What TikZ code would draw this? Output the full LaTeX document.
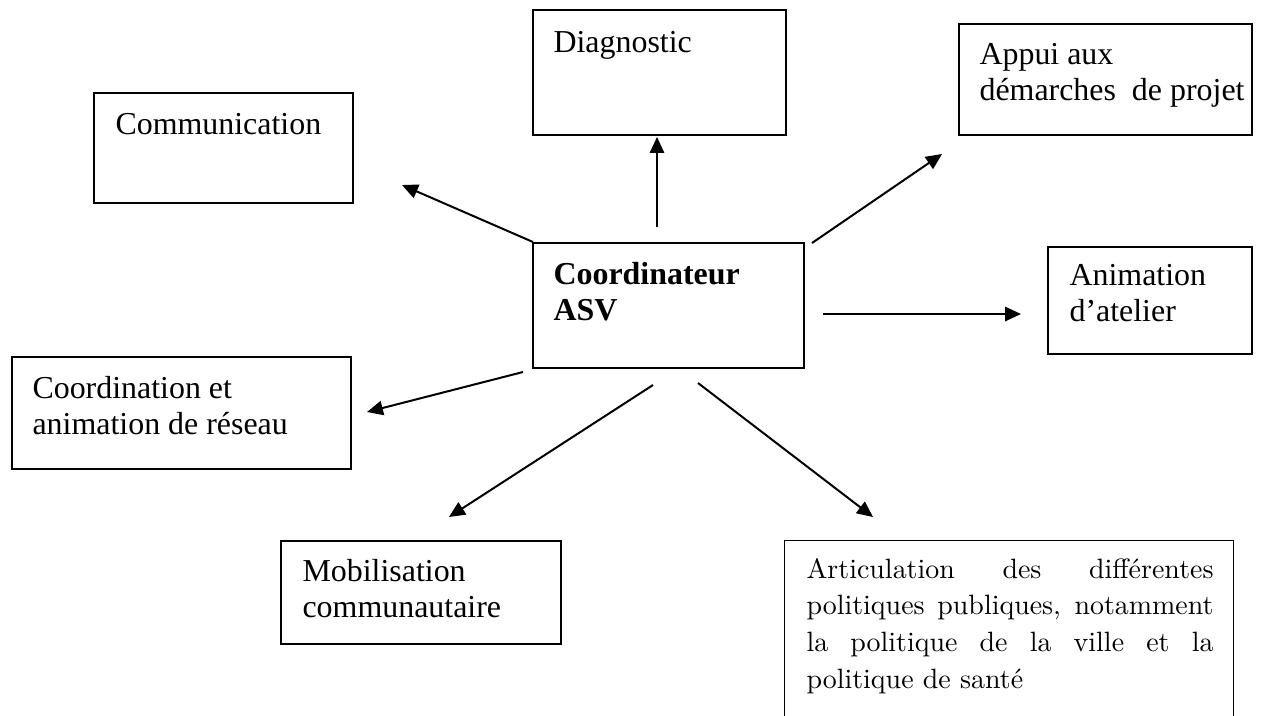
\documentclass[tikz,border=0pt]{standalone}
\usepackage{fontspec}
\newfontfamily\tnr{Liberation Serif}
\usetikzlibrary{arrows.meta,fit}
\begin{document}
\begin{tikzpicture}[x=0.37594pt, y=-0.37594pt,
  box/.style={draw, line width=0.6pt, inner sep=0pt},
  txt/.style={font=\tnr\fontsize{12}{13.8}\selectfont, anchor=base west, inner sep=0pt},
  arttxt/.style={font=\fontsize{10.5}{13.9}\selectfont, anchor=base west, inner sep=0pt},
  arr/.style={-{Triangle[length=6pt,width=5.4pt]}, line width=0.75pt}]
\useasboundingbox (0,0) rectangle (1275,715);

% boxes
\node[box, fit={(94,93) (353,203)}] (comm) {};
\node[box, fit={(533,10) (786,135)}] (diag) {};
\node[box, fit={(959,24) (1252,135)}] (appui) {};
\node[box, line width=0.75pt, fit={(533,243) (804,368)}] (coord) {};
\node[box, fit={(1048,247) (1252,354)}] (anim) {};
\node[box, fit={(12,357) (351,469)}] (coordn) {};
\node[box, fit={(281,541) (561,644)}] (mob) {};
\node[inner sep=0pt, fit={(785,541) (1233,715)}] (art) {};
\draw[line width=0.6pt] (art.south west) -- (art.north west) -- (art.north east) -- (art.south east);

% texts
\node[txt] (tcomm) at (115,134) {Communication};
\node[txt] (tdiag) at (553,52) {Diagnostic};
\node[txt] (tappui) at (979,64) {\vtop{\hbox{Appui aux}\hbox{démarches~ de projet}}};
\node[txt, font=\tnr\bfseries\fontsize{12}{13.8}\selectfont] (tcoord) at (553,284) {\vtop{\hbox{Coordinateur}\hbox{ASV}}};
\node[txt] (tanim) at (1069,285) {\vtop{\hbox{Animation}\hbox{d’atelier}}};
\node[txt] (tcoordn) at (32,398) {\vtop{\hbox{Coordination et}\hbox{animation de réseau}}};
\node[txt] (tmob) at (302,581) {\vtop{\hbox{Mobilisation}\hbox{communautaire}}};
\node[arttxt] (tart) at (806,578) {\vtop{%
  \hbox{\makebox[153pt][s]{Articulation des différentes}}%
  \hbox{\makebox[153pt][s]{politiques publiques, notamment}}%
  \hbox{\makebox[153pt][s]{la politique de la ville et la}}%
  \hbox{politique de santé}}};

% arrow end points
\coordinate (s1) at (533,242); \coordinate (e1) at (402,185);
\coordinate (s2) at (657,227); \coordinate (e2) at (657,137);
\coordinate (s3) at (812,243); \coordinate (e3) at (942,154);
\coordinate (s4) at (823,314); \coordinate (e4) at (1021,314);
\coordinate (s5) at (523,372); \coordinate (e5) at (367,412);
\coordinate (s6) at (653,385); \coordinate (e6) at (449,517);
\coordinate (s7) at (698,383); \coordinate (e7) at (873,517);

\draw[arr] (s1) -- (e1);
\draw[arr] (s2) -- (e2);
\draw[arr] (s3) -- (e3);
\draw[arr] (s4) -- (e4);
\draw[arr] (s5) -- (e5);
\draw[arr] (s6) -- (e6);
\draw[arr] (s7) -- (e7);
\end{tikzpicture}
\end{document}
